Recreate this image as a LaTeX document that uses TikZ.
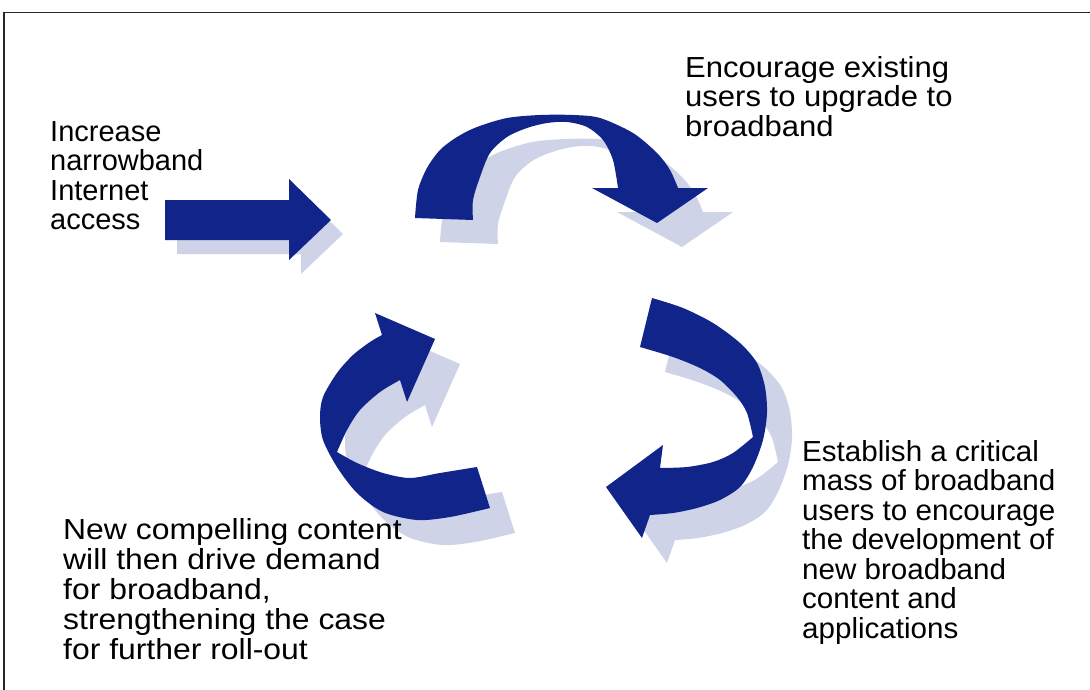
\documentclass[tikz,border=0pt]{standalone}
\usepackage{fontspec}
\setmainfont{Liberation Sans}
\definecolor{arrowblue}{RGB}{16,36,138}
\definecolor{arrowshade}{RGB}{206,211,232}

% Block arrows, in pixel-like units (x = 1pt, y = -1pt)
\newcommand\straightarrowshape[1]{%
  \fill[#1] (165,200) -- (289,200) -- (289,179) -- (331,220) -- (289,260)
    -- (289,240) -- (165,240) -- cycle;}
\newcommand\toparcshape[1]{%
  \fill[#1] plot[smooth,tension=0.5] coordinates {(415,218) (418,190) (427,168)
      (440,150) (457,137) (477,127) (507,118) (540,115) (573,115) (600,118)
      (633,133) (657,153) (670,170) (678,188)}
    -- (708,188) -- (657,223) -- (592,188)
    -- plot[smooth,tension=0.5] coordinates {(618,188) (613,160) (603,140)
      (587,127) (567,122) (547,123) (527,128) (507,137) (490,153) (480,177)
      (473,200) (473,220)} -- cycle;}
\newcommand\rightarcshape[1]{%
  \fill[#1] plot[smooth,tension=0.5] coordinates {(652,298) (683,308) (713,323)
      (740,343) (757,363) (765,387) (767,413) (763,440) (753,467) (740,487)
      (720,500) (697,508) (673,513) (650,515)}
    -- (642,538) -- (606,487) -- (663,445)
    -- plot[smooth,tension=0.5] coordinates {(660,468) (687,467) (713,462)
      (733,453) (753,437)}
    -- plot[smooth,tension=0.5] coordinates {(753,437) (747,413) (737,397)
      (720,380) (700,368) (673,357) (640,347)} -- cycle;}
\newcommand\leftarcshape[1]{%
  \fill[#1] plot[smooth,tension=0.5] coordinates {(490,508) (450,517) (417,520)
      (383,512) (357,493) (337,467) (323,440) (320,417) (323,397) (337,373)
      (353,355) (370,342) (382,335)}
    -- (375,313) -- (435,339) -- (407,402)
    -- plot[smooth,tension=0.5] coordinates {(400,380) (380,392) (360,410)
      (347,430) (337,452)}
    -- plot[smooth,tension=0.5] coordinates {(337,452) (357,463) (383,473)
      (410,478) (440,473) (477,467)} -- cycle;}

\begin{document}
\begin{tikzpicture}[x=1pt,y=-1pt,
  % #1: horizontal stretch of the glyphs, #2: line distance
  blurb/.style 2 args={anchor=north west, inner sep=0pt, align=left,
    font=\fontsize{29}{#2}\selectfont\addfontfeature{FakeStretch=#1}},
  frameline/.style={line width=1.5pt, draw=black!85},
  shade/.style={fill=arrowshade},
  solid/.style={fill=arrowblue}]
\useasboundingbox (0,0) rectangle (1090,690);

% frame
\draw[frameline] (4,690) -- (4,12.5) -- (1090,12.5);

% drop shadows
\straightarrowshape{shade, shift={(12,14)}}
\toparcshape{shade, shift={(25,24)}}
\rightarcshape{shade, shift={(25,25)}}
\leftarcshape{shade, shift={(25,25)}}

% arrows
\straightarrowshape{solid}
\toparcshape{solid}
\rightarcshape{solid}
\leftarcshape{solid}

% captions
\node[blurb={1.00}{29.5}] (increase) at (50,121) {Increase\\narrowband\\Internet\\access};
\node[blurb={1.07}{29.5}] (encourage) at (685,56) {Encourage existing\\users to upgrade to\\broadband};
\node[blurb={1.02}{29.5}] (establish) at (802,440) {Establish a critical\\mass of broadband\\users to encourage\\the development of\\new broadband\\content and\\applications};
\node[blurb={1.10}{30}] (compelling) at (63,518) {New compelling content\\will then drive demand\\for broadband,\\strengthening the case\\for further roll-out};
\end{tikzpicture}
\end{document}
